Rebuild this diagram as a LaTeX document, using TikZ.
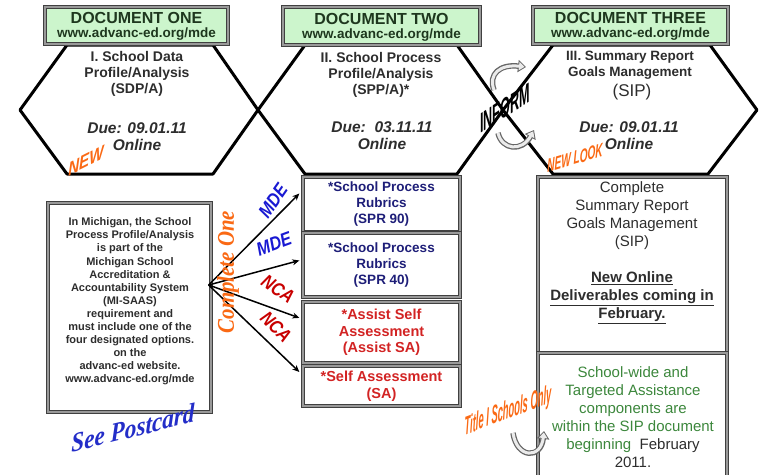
\documentclass[tikz,border=0pt]{standalone}
\usepackage{fontspec}
\setmainfont{Liberation Sans}
\newfontfamily\artserif{Liberation Serif}
\usepackage{graphicx}
\usepackage{xcolor}
\usetikzlibrary{arrows.meta}

\definecolor{hdrfill}{RGB}{204,245,204}
\definecolor{hdrtext}{RGB}{30,55,30}
\definecolor{hextext}{RGB}{45,45,45}
\definecolor{rubricblue}{RGB}{30,30,120}
\definecolor{assistred}{RGB}{210,35,35}
\definecolor{sipgreen}{RGB}{60,135,60}
\definecolor{wordorange}{RGB}{250,105,20}
\definecolor{mdeblue}{RGB}{25,25,210}
\definecolor{ncared}{RGB}{200,0,0}
\definecolor{cardblue}{RGB}{35,45,200}

\begin{document}
\begin{tikzpicture}[x=1pt, y=-1pt,
    hexline/.style={line width=3pt, line join=round},
    frame/.style={draw=black!75, line width=1.3pt, double=black!40, double distance=1.4pt, inner sep=0pt},
    header/.style={frame, fill=hdrfill},
    hdrtitle/.style={text=hdrtext, font=\bfseries\fontsize{16}{17}\selectfont},
    hdrurl/.style={text=hdrtext, font=\bfseries\fontsize{13.5}{15}\selectfont},
    hexlabel/.style={align=center, text=hextext, font=\bfseries\fontsize{14}{16}\selectfont},
    duelabel/.style={align=center, text=hextext, font=\bfseries\itshape\fontsize{15.5}{17}\selectfont},
    option/.style={frame, minimum width=157pt, align=center, font=\bfseries\fontsize{13.5}{16}\selectfont},
    wordart/.style={inner sep=0pt, font=\bfseries\itshape\fontsize{19}{19}\selectfont},
    fanarrow/.style={line width=1.5pt, -{Stealth[length=7pt,width=6pt]}},
    curlarrow/.style={draw=black!60, line width=5.5pt, -{Triangle[length=8pt,width=12pt]},
        postaction={draw=black!8, line width=3pt, -{Triangle[length=5.5pt,width=8pt]}, shorten >=1.5pt}}
]
\clip (0,0) rectangle (760,474);

\draw[hexline] (20,110) -- (67,45) -- (213,45) -- (258,110) -- (213,174) -- (67,174) -- cycle;
\draw[hexline] (258,110) -- (305,45) -- (457,45) -- (503,110) -- (457,174) -- (305,174) -- cycle;
\draw[hexline] (503,110) -- (553,45) -- (710,45) -- (757,110) -- (708,174) -- (553,174) -- cycle;

\node[header, minimum width=183pt, minimum height=37pt] (docone) at (136.5,25.5) {};
\node[hdrtitle] (doconetitle) at (136.5,18) {DOCUMENT ONE};
\node[hdrurl] (doconeurl) at (136.5,34.5) {www.advanc-ed.org/mde};
\node[header, minimum width=197pt, minimum height=38pt] (doctwo) at (381.5,26) {};
\node[hdrtitle] (doctwotitle) at (381.5,18.5) {DOCUMENT TWO};
\node[hdrurl] (doctwourl) at (381.5,35) {www.advanc-ed.org/mde};
\node[header, minimum width=195pt, minimum height=37pt] (docthree) at (630.5,25.5) {};
\node[hdrtitle] (docthreetitle) at (630.5,18) {DOCUMENT THREE};
\node[hdrurl] (docthreeurl) at (630.5,34.5) {www.advanc-ed.org/mde};

\node[hexlabel] (sdpa) at (137,74) {I. School Data\\Profile/Analysis\\(SDP/A)};
\node[duelabel] (dueone) at (137,137) {Due: 09.01.11\\Online};
\node[hexlabel] (sppa) at (381,75) {II. School Process\\Profile/Analysis\\(SPP/A)*};
\node[duelabel] (duetwo) at (382,136) {Due:\ \ 03.11.11\\Online};
\node[hexlabel, font=\bfseries\fontsize{13.5}{16}\selectfont] (sipa) at (630,65) {III. Summary Report\\Goals Management};
\node[text=hextext, font=\fontsize{17}{18}\selectfont] (sipb) at (632,92) {(SIP)};
\node[duelabel] (duethree) at (629,135.5) {Due: 09.01.11\\Online};

\node[wordart, text=wordorange, yslant=0.5] (newone) at (86,161) {\scalebox{0.8}[1]{NEW}};
\node[wordart, text=wordorange, yslant=0.3] (newlook) at (575,158) {\scalebox{0.53}[1]{NEW LOOK}};
\node[wordart, font=\bfseries\fontsize{28}{28}\selectfont, yslant=0.65] (inform) at (505,108) {\scalebox{0.45}[1]{INFORM}};
\coordinate (infA) at (494,90);
\coordinate (infB) at (526,67);
\coordinate (infC) at (498,133);
\coordinate (infD) at (534,130);
\draw[curlarrow] (infA) .. controls (488,74) and (500,64) .. (infB);
\draw[curlarrow] (infC) .. controls (502,150) and (522,152) .. (infD);

\node[frame, minimum width=163pt, minimum height=209pt] (michbox) at (129.5,307.5) {};
\node[align=center, text=hextext, font=\bfseries\fontsize{11}{13.1}\selectfont] (michtext) at (130,301.5)
    {In Michigan, the School\\Process Profile/Analysis\\is part of the\\Michigan School\\Accreditation \&\\
     Accountability System\\(MI-SAAS)\\requirement and\\must include one of the\\four designated options.\\
     on the\\advanc-ed website.\\www.advanc-ed.org/mde};
\node[wordart, text=cardblue, yslant=0.25, font=\artserif\bfseries\itshape\fontsize{27}{27}\selectfont] (postcard) at (133,428)
    {\scalebox{0.86}[1]{See Postcard}};

\node[option, minimum height=55pt, text=rubricblue] (spr90) at (381.5,204.5) {*School Process\\Rubrics\\(SPR 90)};
\node[option, minimum height=64pt, text=rubricblue] (spr40) at (381.5,265) {*School Process\\Rubrics\\(SPR 40)};
\node[option, minimum height=61pt, text=assistred, font=\bfseries\fontsize{14.5}{16.5}\selectfont] (asa) at (381.5,332.5) {*Assist Self\\Assessment\\(Assist SA)};
\node[option, minimum height=40pt, text=assistred, font=\bfseries\fontsize{14.5}{16.5}\selectfont] (sa) at (381.5,386) {*Self Assessment\\(SA)};

\coordinate (fan) at ([xshift=-3pt,yshift=22.5pt]michbox.east);
\foreach \b/\s in {spr90/11, spr40/4.5, asa/14.6, sa/14}
    \draw[fanarrow] (fan) -- ([xshift=-3pt,yshift=\s pt]\b.west);

\node[wordart, text=wordorange, rotate=90, font=\artserif\bfseries\itshape\fontsize{24}{24}\selectfont] (pickone) at (228,272)
    {\scalebox{0.87}[1]{Complete One}};
\node[wordart, text=mdeblue, rotate=55] (mdeone) at (273,201) {\scalebox{0.85}[1]{MDE}};
\node[wordart, text=mdeblue, rotate=20] (mdetwo) at (274,244) {\scalebox{0.85}[1]{MDE}};
\node[wordart, text=ncared, rotate=-35] (ncaone) at (278,289) {\scalebox{0.85}[1]{NCA}};
\node[wordart, text=ncared, rotate=-45] (ncatwo) at (276,327) {\scalebox{0.85}[1]{NCA}};

\node[frame, minimum width=189pt, minimum height=176pt] (sipbox) at (632.5,265) {};
\node[align=center, text=hextext, font=\fontsize{15}{18}\selectfont] (siptext) at (632,253)
    {Complete\\Summary Report\\Goals Management\\(SIP)\\[18pt]
     \textbf{\underline{New Online}}\\\textbf{\underline{Deliverables coming in}}\\\textbf{\underline{February.}}};
\node[frame, minimum width=189pt, minimum height=140pt] (titlebox) at (632.5,423) {};
\node[align=center, text=sipgreen, font=\fontsize{15}{18}\selectfont] (titletext) at (633,417)
    {School-wide and\\Targeted Assistance\\components are\\within the SIP document\\
     beginning\ \ \textcolor{hextext}{February}\\\textcolor{hextext}{2011.}};

\node[wordart, text=wordorange, yslant=0.38, font=\bfseries\itshape\fontsize{26}{26}\selectfont] (titleone) at (508,412)
    {\scalebox{0.36}[1]{Title I Schools Only}};
\coordinate (uA) at (513,433);
\coordinate (uB) at (544,431);
\draw[curlarrow] (uA) .. controls (517,459) and (541,459) .. (uB);
\end{tikzpicture}
\end{document}
